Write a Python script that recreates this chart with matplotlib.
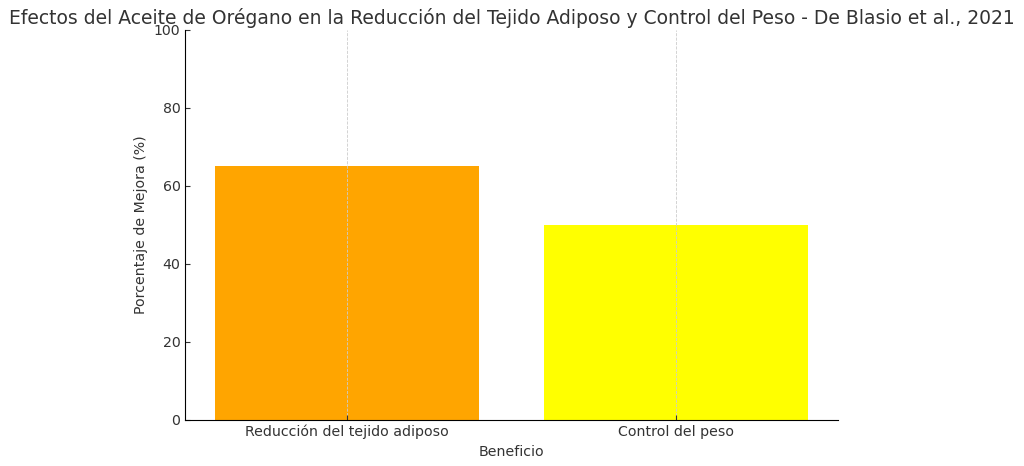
import matplotlib.pyplot as plt

beneficios = ["Reducción del tejido adiposo", "Control del peso"]
mejora = [65, 50]
colores = ["orange", "yellow"]

plt.rcParams['text.color'] = '#333333'
plt.rcParams['axes.labelcolor'] = '#333333'
plt.rcParams['xtick.color'] = '#333333'
plt.rcParams['ytick.color'] = '#333333'

fig, ax = plt.subplots(figsize=(10.24, 4.66), dpi=100)
fig.subplots_adjust(left=0.181, right=0.818, top=0.936, bottom=0.099)

ax.bar(beneficios, mejora, color=colores, width=0.8)
ax.set_ylim(0, 100)
ax.set_title("Efectos del Aceite de Orégano en la Reducción del Tejido Adiposo y Control del Peso - De Blasio et al., 2021",
             fontsize=13.5, pad=4)
ax.set_xlabel("Beneficio", fontsize=10.2)
ax.set_ylabel("Porcentaje de Mejora (%)", fontsize=10.2)
ax.tick_params(labelsize=10.2, direction='in', length=3.5)
ax.grid(axis='x', linestyle='--', color='#cccccc', linewidth=0.6)
ax.spines['top'].set_visible(False)
ax.spines['right'].set_visible(False)

fig.savefig("out.png")
